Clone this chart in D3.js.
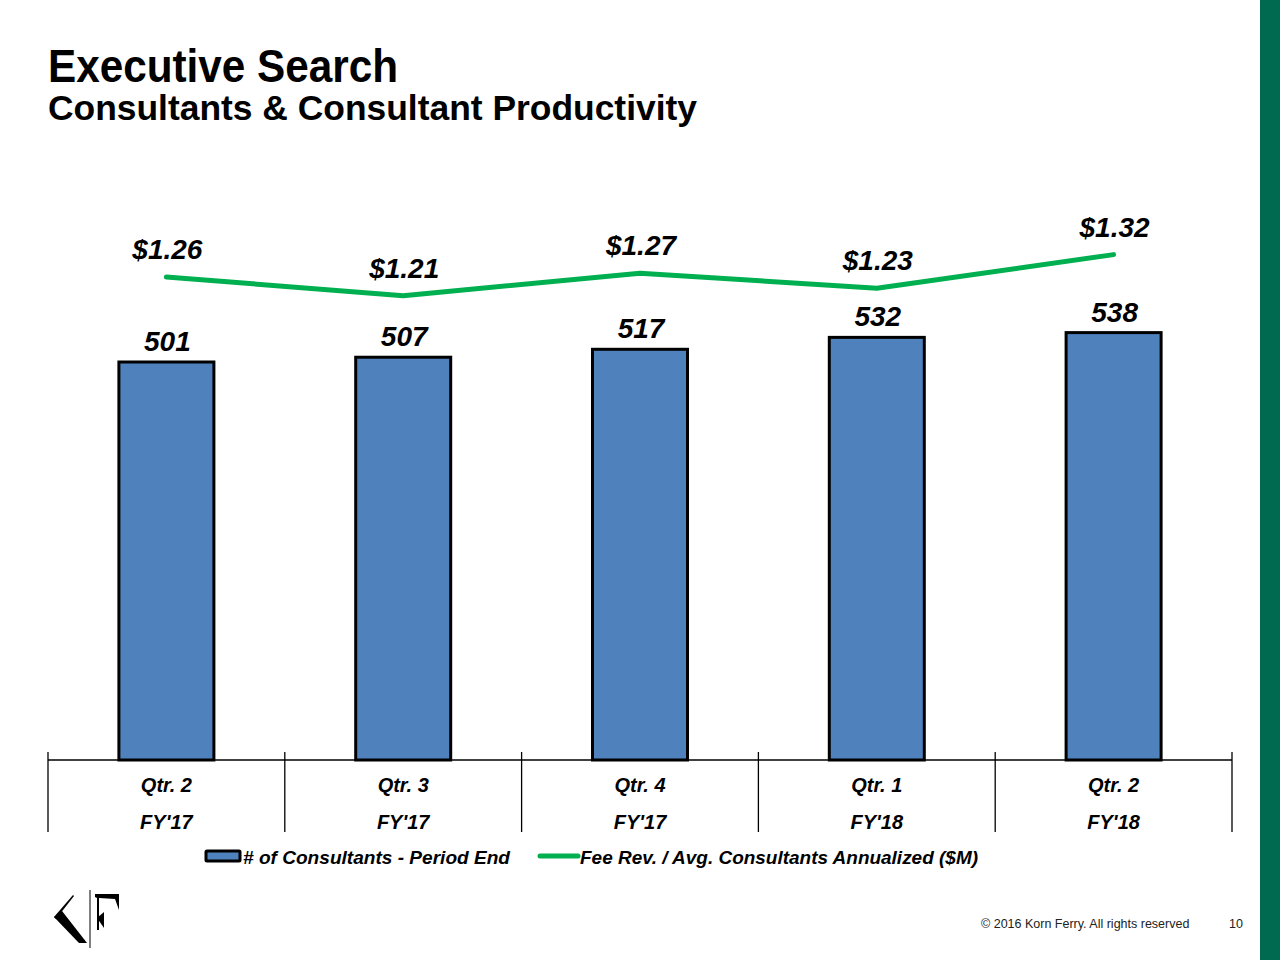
<!DOCTYPE html>
<html>
<head>
<meta charset="utf-8">
<script src="https://cdn.jsdelivr.net/npm/d3@7"></script>
<style>
  html, body { margin: 0; padding: 0; background: #fff; }
  svg { display: block; font-family: "Liberation Sans", Arial, Helvetica, sans-serif; }
</style>
</head>
<body>
<svg id="chart" width="1280" height="960"></svg>
<script>
const quarters = ["Qtr. 2", "Qtr. 3", "Qtr. 4", "Qtr. 1", "Qtr. 2"];
const fiscalYears = ["FY'17", "FY'17", "FY'17", "FY'18", "FY'18"];
const consultants = [501, 507, 517, 532, 538];
const productivity = [1.26, 1.21, 1.27, 1.23, 1.32];
const productivityLabels = ["$1.26", "$1.21", "$1.27", "$1.23", "$1.32"];
const legendLabels = ["# of Consultants - Period End", "Fee Rev. / Avg. Consultants Annualized ($M)"];

const svg = d3.select("#chart");
const W = 1280, H = 960;
const plotLeft = 48, plotRight = 1232, baseY = 760;

// right green band
svg.append("rect").attr("x", 1260).attr("y", 0).attr("width", 20).attr("height", H).attr("fill", "#006a50");

// titles
svg.append("text").attr("x", 48).attr("y", 82).attr("font-size", 46).attr("font-weight", "bold")
  .attr("textLength", 350).attr("lengthAdjust", "spacingAndGlyphs").attr("fill", "#000").text("Executive Search");
svg.append("text").attr("x", 48).attr("y", 120).attr("font-size", 35).attr("font-weight", "bold")
  .attr("textLength", 649).attr("lengthAdjust", "spacingAndGlyphs").attr("fill", "#000").text("Consultants & Consultant Productivity");

// scales
const idx = d3.range(consultants.length);
const x = d3.scaleBand().domain(idx).range([plotLeft, plotRight]).paddingInner(0).paddingOuter(0);
const y = d3.scaleLinear().domain([0, 600]).range([baseY, baseY - 600 * (398 / 501)]);
const y2 = d3.scaleLinear().domain([0, 1.4]).range([747, 747 - 1.4 * 373]);
const barW = 95;
const cx = i => x(i) + x.bandwidth() / 2;

// bars
svg.append("g").selectAll("rect").data(consultants).join("rect")
  .attr("x", (d, i) => cx(i) - barW / 2)
  .attr("y", d => y(d))
  .attr("width", barW)
  .attr("height", d => baseY - y(d))
  .attr("fill", "#4f81bd")
  .attr("stroke", "#000")
  .attr("stroke-width", 3);

// bar labels
svg.append("g").selectAll("text").data(consultants).join("text")
  .attr("x", (d, i) => cx(i) + 1)
  .attr("y", d => y(d) - 11)
  .attr("text-anchor", "middle")
  .attr("font-size", 28).attr("font-weight", "bold").attr("font-style", "italic")
  .attr("fill", "#000")
  .text(d => d);

// axis line and separators
const axisG = svg.append("g");
axisG.append("line").attr("x1", plotLeft).attr("x2", plotRight).attr("y1", baseY).attr("y2", baseY)
  .attr("stroke", "#000").attr("stroke-width", 1.3);
const seps = idx.map(i => x(i)).concat([plotRight]);
axisG.selectAll("line.sep").data(seps).join("line").attr("class", "sep")
  .attr("x1", d => d).attr("x2", d => d).attr("y1", 752).attr("y2", 832)
  .attr("stroke", "#000").attr("stroke-width", 1.3);

// category labels
axisG.selectAll("text.q").data(quarters).join("text").attr("class", "q")
  .attr("x", (d, i) => cx(i)).attr("y", 792)
  .attr("text-anchor", "middle").attr("font-size", 20).attr("font-weight", "bold").attr("font-style", "italic")
  .text(d => d);
axisG.selectAll("text.fy").data(fiscalYears).join("text").attr("class", "fy")
  .attr("x", (d, i) => cx(i)).attr("y", 829)
  .attr("text-anchor", "middle").attr("font-size", 20).attr("font-weight", "bold").attr("font-style", "italic")
  .text(d => d);

// line
const line = d3.line().x((d, i) => cx(i)).y(d => y2(d));
svg.append("path").datum(productivity).attr("d", line)
  .attr("fill", "none").attr("stroke", "#00b050").attr("stroke-width", 5)
  .attr("stroke-linejoin", "round").attr("stroke-linecap", "round");

// line labels
svg.append("g").selectAll("text").data(productivity).join("text")
  .attr("x", (d, i) => cx(i) + 1)
  .attr("y", d => y2(d) - 18)
  .attr("text-anchor", "middle")
  .attr("font-size", 28).attr("font-weight", "bold").attr("font-style", "italic")
  .attr("fill", "#000")
  .text((d, i) => productivityLabels[i]);

// legend
const lg = svg.append("g");
lg.append("rect").attr("x", 206).attr("y", 851).attr("width", 34).attr("height", 10)
  .attr("fill", "#4f81bd").attr("stroke", "#000").attr("stroke-width", 3).attr("rx", 1);
lg.append("text").attr("x", 243).attr("y", 864).attr("font-size", 19).attr("font-weight", "bold").attr("font-style", "italic")
  .attr("textLength", 267).attr("lengthAdjust", "spacingAndGlyphs").text(legendLabels[0]);
lg.append("line").attr("x1", 540).attr("x2", 578).attr("y1", 856).attr("y2", 856)
  .attr("stroke", "#00b050").attr("stroke-width", 5).attr("stroke-linecap", "round");
lg.append("text").attr("x", 580).attr("y", 864).attr("font-size", 19).attr("font-weight", "bold").attr("font-style", "italic")
  .attr("textLength", 398).attr("lengthAdjust", "spacingAndGlyphs").text(legendLabels[1]);

// logo
const logo = svg.append("g");
logo.append("path").attr("d", "M73,895 L54,917 L56,919 L74,896 Z").attr("fill", "#000");
logo.append("path").attr("d", "M54,917 L62,911 L87,943 L79,943 Z").attr("fill", "#000");
logo.append("line").attr("x1", 90).attr("x2", 90).attr("y1", 890).attr("y2", 948).attr("stroke", "#000").attr("stroke-width", 1);
logo.append("path").attr("d", "M95,894 L119,894 L119,910 L115,899 L99,898 L99,930 L97,930 L97,898 L95,897 Z").attr("fill", "#000");
logo.append("path").attr("d", "M97,918 L104,912 L104,928 Z").attr("fill", "#000");

// footer
svg.append("text").attr("x", 981).attr("y", 928).attr("font-size", 12.5).attr("fill", "#222")
  .text("© 2016 Korn Ferry.  All rights reserved");
svg.append("text").attr("x", 1229).attr("y", 928).attr("font-size", 12.5).attr("fill", "#222").text("10");
</script>
</body>
</html>
